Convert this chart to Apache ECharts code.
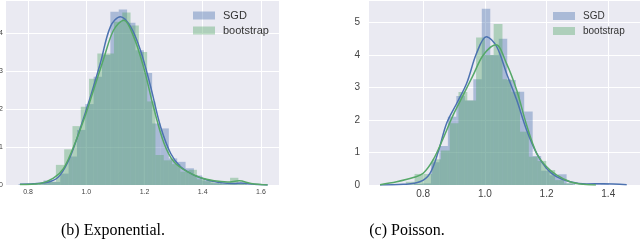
<!DOCTYPE html>
<html><head><meta charset="utf-8">
<script src="https://cdn.jsdelivr.net/npm/echarts@6/dist/echarts.min.js"></script>
<style>html,body{margin:0;padding:0;background:#fff}#c{width:640px;height:240px}</style>
</head><body><div id="c"></div><script>
// ---- (b) Exponential: histograms (density) ----
const expSgdStart = 0.767, expSgdWidth = 0.0287;
const expSgdHeights = [0.02,0,0.02,0.12,0.08,0.3,0.75,1.45,2.13,2.85,3.42,4.56,4.62,4.27,3.55,2.95,1.62,1.49,0.7,0.61,0.44,0.25,0.12,0.05,0.03,0.03,0.05,0.02];
const expBootStart = 0.8385, expBootWidth = 0.0285;
const expBootHeights = [0.05,0.09,0.53,0.94,1.55,2.06,2.8,3.46,3.46,4.3,4.54,4.2,3.5,2.2,0.79,0.65,0.55,0.35,0.4,0.15,0.1,0.05,0.02,0.19,0.05];
// KDE curves
const expSgdKdeX = [0.772,0.818,0.876,0.91,0.945,0.979,1.014,1.048,1.083,1.117,1.152,1.186,1.221,1.255,1.29,1.324,1.37,1.416,1.462,1.508,1.531,1.577,1.623];
const expSgdKdeY = [0.02,0.03,0.09,0.26,0.75,1.49,2.32,3.2,4.17,4.43,4.17,3.55,2.59,1.54,0.83,0.48,0.26,0.13,0.06,0.04,0.05,0.02,0];
const expBootKdeX = [0.772,0.841,0.887,0.922,0.956,0.991,1.025,1.06,1.094,1.129,1.163,1.198,1.232,1.267,1.301,1.347,1.393,1.439,1.485,1.525,1.566,1.623];
const expBootKdeY = [0.01,0.04,0.18,0.44,1.0,1.71,2.5,3.33,4.08,4.34,3.9,3.07,2.02,1.1,0.61,0.35,0.19,0.11,0.08,0.11,0.04,0];

// ---- (c) Poisson ----
const poiSgdStart = 0.77, poiSgdWidth = 0.0275;
const poiSgdHeights = [0.03,0.05,0.70,1.2,2.1,2.74,2.6,3.25,5.42,4.0,4.5,3.23,2.87,2.26,0.89,0.44,0.3,0.33,0.05,0,0,0.02,0.04];
const poiBootStart = 0.715, poiBootWidth = 0.0285;
const poiBootHeights = [0.03,0.1,0.34,0.34,0.79,1.06,1.9,2.86,2.6,4.54,4.0,4.95,3.25,2.87,1.64,0.87,0.74,0.46,0.15,0.05];
const poiSgdKdeX = [0.66,0.735,0.789,0.822,0.849,0.876,0.908,0.941,0.973,1.005,1.038,1.07,1.103,1.135,1.168,1.2,1.232,1.276,1.33,1.384,1.46];
const poiSgdKdeY = [0,0.02,0.1,0.36,1.03,1.9,2.5,3.13,4.05,4.56,4.26,3.44,2.62,1.7,0.97,0.51,0.26,0.1,0.03,0.04,0.01];
const poiBootKdeX = [0.66,0.714,0.768,0.8,0.832,0.865,0.897,0.93,0.962,0.995,1.036,1.07,1.103,1.135,1.168,1.2,1.232,1.276,1.319,1.36];
const poiBootKdeY = [0.01,0.1,0.23,0.36,0.77,1.44,2.15,2.77,3.38,4.0,4.31,3.74,2.92,1.85,0.97,0.56,0.31,0.1,0.02,0];

const seriesNames = ['SGD','bootstrap'];
const captions = ['(b) Exponential.','(c) Poisson.'];
const xTicks = [0.8,1.0,1.2,1.4,1.6];

const BLUE = '#4C72B0', GREEN = '#55A868';
const BLUE_A = 'rgba(76,114,176,0.4)', GREEN_A = 'rgba(85,168,104,0.4)';

function bins(start, width, heights){
  return heights.map((h,i)=>[start+i*width, start+(i+1)*width, h]);
}
function pairs(xs, ys){ return xs.map((x,i)=>[x, ys[i]]); }
function renderBar(params, api){
  const p0 = api.coord([api.value(0), api.value(2)]);
  const p1 = api.coord([api.value(1), 0]);
  return {type:'rect', shape:{x:p0[0], y:p0[1], width:p1[0]-p0[0], height:p1[1]-p0[1]},
    style:{fill: api.visual('color')}};
}
function histSeries(name, data, color, idx){
  return {name, type:'custom', renderItem:renderBar, data, xAxisIndex:idx, yAxisIndex:idx,
    encode:{x:[0,1], y:2}, itemStyle:{color}, clip:true, silent:true};
}
function kdeSeries(name, data, color, idx){
  return {name, type:'line', data, xAxisIndex:idx, yAxisIndex:idx, showSymbol:false, smooth:0.35,
    lineStyle:{color, width:1.5}, itemStyle:{color}, clip:true, silent:true};
}
function isTick(v, step){ return Math.abs(v/step - Math.round(v/step)) < 1e-6; }

const grid = [
  {left:5, top:0, width:274, height:185, show:true, backgroundColor:'#EAEAF2', borderWidth:0, outerBoundsMode:'none', containLabel:false},
  {left:368, top:0, width:272, height:185, show:true, backgroundColor:'#EAEAF2', borderWidth:0, outerBoundsMode:'none', containLabel:false}
];
const axText = {fontFamily:'Liberation Sans', color:'#444'};
function xAxis(idx, min, max, fs, margin){
  return {type:'value', gridIndex:idx, min, max, splitNumber:5,
    axisLine:{show:false}, axisTick:{show:false},
    splitLine:{show:true, lineStyle:{color:'#fff', width:1}},
    axisLabel:Object.assign({fontSize:fs, margin, formatter:v=> isTick(v,0.2) && xTicks.some(t=>Math.abs(t-v)<1e-6) ? v.toFixed(1) : ''}, axText)};
}
function yAxis(idx, max, fs, margin){
  return {type:'value', gridIndex:idx, min:0, max, interval:1,
    axisLine:{show:false}, axisTick:{show:false},
    splitLine:{show:true, lineStyle:{color:'#fff', width:1}},
    axisLabel:Object.assign({fontSize:fs, margin, formatter:v=> isTick(v,1) ? String(Math.round(v)) : ''}, axText)};
}

const chart = echarts.init(document.getElementById('c'), null, {renderer:'canvas'});
chart.setOption({
  animation:false,
  backgroundColor:'#fff',
  grid,
  xAxis:[xAxis(0, 0.7207, 1.662, 7, 4), xAxis(1, 0.621, 1.503, 10, 4)],
  yAxis:[yAxis(0, 4.87, 7, 2), yAxis(1, 5.69, 10, 8)],
  legend:[
    {left:188, top:5, orient:'vertical', itemWidth:22, itemHeight:8, itemGap:4, icon:'rect',
     data:seriesNames, selectedMode:false,
     textStyle:{fontSize:11, color:'#333', fontFamily:'Liberation Sans', padding:[0,0,0,3]}},
    {left:548, top:6, orient:'vertical', itemWidth:22, itemHeight:8, itemGap:5, icon:'rect',
     data:seriesNames, selectedMode:false,
     textStyle:{fontSize:10, color:'#333', fontFamily:'Liberation Sans', padding:[0,0,0,3]}}
  ],
  title:[
    {text:captions[0], left:113, top:223, textAlign:'center', padding:0,
     textStyle:{fontFamily:'Liberation Serif', fontSize:16, fontWeight:'normal', color:'#000'}},
    {text:captions[1], left:407, top:223, textAlign:'center', padding:0,
     textStyle:{fontFamily:'Liberation Serif', fontSize:16, fontWeight:'normal', color:'#000'}}
  ],
  series:[
    histSeries(seriesNames[0], bins(expSgdStart, expSgdWidth, expSgdHeights), BLUE_A, 0),
    kdeSeries('SGD kde', pairs(expSgdKdeX, expSgdKdeY), BLUE, 0),
    histSeries(seriesNames[1], bins(expBootStart, expBootWidth, expBootHeights), GREEN_A, 0),
    kdeSeries('bootstrap kde', pairs(expBootKdeX, expBootKdeY), GREEN, 0),
    histSeries(seriesNames[0], bins(poiSgdStart, poiSgdWidth, poiSgdHeights), BLUE_A, 1),
    kdeSeries('SGD kde ', pairs(poiSgdKdeX, poiSgdKdeY), BLUE, 1),
    histSeries(seriesNames[1], bins(poiBootStart, poiBootWidth, poiBootHeights), GREEN_A, 1),
    kdeSeries('bootstrap kde ', pairs(poiBootKdeX, poiBootKdeY), GREEN, 1)
  ]
});
</script></body></html>
